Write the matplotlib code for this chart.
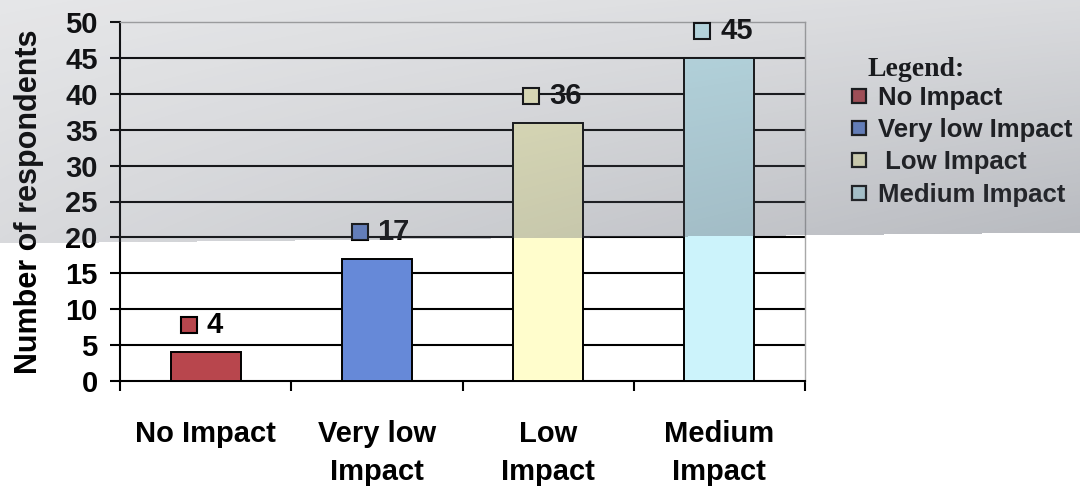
"""Bar chart: how strongly respondents rated the impact, with a legend box."""

import matplotlib

matplotlib.use("Agg")
import matplotlib.pyplot as plt
import numpy as np
from matplotlib.lines import Line2D

# ---- data ----
categories = ["No Impact", "Very low Impact", "Low Impact", "Medium Impact"]
tick_labels = ["No Impact", "Very low\nImpact", "Low\nImpact", "Medium\nImpact"]
legend_labels = ["No Impact", "Very low Impact", " Low Impact", "Medium Impact"]
respondents = [4, 17, 36, 45]
bar_colors = ["#b8464d", "#6689d8", "#fffdcc", "#ccf3fb"]

W, H, DPI = 1080, 487, 100
SANS = "Liberation Sans"
SERIF = "Liberation Serif"

fig = plt.figure(figsize=(W / DPI, H / DPI), dpi=DPI)
fig.patch.set_facecolor("white")
ax = fig.add_axes([120 / W, 1 - 381 / H, 685 / W, 359 / H])

x = np.arange(len(categories))
ax.bar(x, respondents, width=0.41, color=bar_colors, edgecolor="black",
       linewidth=1.4, zorder=3)

# value labels: a small colour key followed by the number
for xi, val, col in zip(x, respondents, bar_colors):
    ax.plot(xi, val, marker="s", markersize=11, markerfacecolor=col,
            markeredgecolor="black", markeredgewidth=1.5, linestyle="none",
            transform=ax.transData + matplotlib.transforms.ScaledTranslation(
                -17 / DPI, 27 / DPI, fig.dpi_scale_trans), zorder=4, clip_on=False)
    ax.annotate(str(val), (xi, val), xytext=(0.5, 19.4), textcoords="offset points",
                ha="left", va="center", fontsize=21, fontweight="bold",
                family=SANS, zorder=4, annotation_clip=False)

ax.set_xlim(-0.5, len(categories) - 0.5)
ax.set_ylim(0, 50)
ax.set_yticks(np.arange(0, 51, 5))
for yv in np.arange(5, 50, 5):
    ax.axhline(yv, color="black", linewidth=1.5, zorder=1)

ax.set_xticks(x)
ax.set_xticklabels(tick_labels, fontsize=21, fontweight="bold", family=SANS,
                   linespacing=1.45, va="top")
ax.set_xticks(np.arange(-0.5, len(categories), 1.0), minor=True)
ax.tick_params(axis="x", which="major", length=0, pad=28)
ax.tick_params(axis="x", which="minor", length=7, width=1.5, direction="out")
ax.tick_params(axis="y", length=7, width=1.5, direction="out", pad=9)
for lab in ax.get_yticklabels():
    lab.set_fontsize(21)
    lab.set_fontweight("bold")
    lab.set_family(SANS)

ax.set_ylabel("Number of respondents", fontsize=22, fontweight="bold",
              family=SANS, labelpad=15)

for side in ("left", "bottom"):
    ax.spines[side].set_color("black")
    ax.spines[side].set_linewidth(1.5)
for side in ("top", "right"):
    ax.spines[side].set_color("#a8a8a8")
    ax.spines[side].set_linewidth(1.0)

# legend
handles = [Line2D([], [], marker="s", linestyle="none", markersize=10,
                  markerfacecolor=c, markeredgecolor="black", markeredgewidth=1.6)
           for c in bar_colors]
fig.legend(handles, legend_labels, loc="upper left",
           bbox_to_anchor=(851 / W, 1 - 86 / H), frameon=False,
           prop={"family": SANS, "weight": "bold", "size": 18.5},
           handlelength=0.6, handletextpad=0.45, labelspacing=0.32,
           borderpad=0, borderaxespad=0)
fig.text(867 / W, 1 - 70 / H, "Legend:", family=SERIF, fontweight="bold",
         fontsize=20, ha="left", va="center")

# grey photographic cast over the upper part of the slide
yy, xx = np.mgrid[0:H, 0:W]
edge = 243 - 11 * xx / W
xn = xx / W
yn = np.clip(yy / 240, 0, 1)
alpha = 0.16 + 0.08 * yn + 0.07 * xn + 0.14 * xn * yn
alpha = np.where(yy < edge, alpha, 0.0)
overlay = np.zeros((H, W, 4))
overlay[..., 0] = 95 / 255
overlay[..., 1] = 100 / 255
overlay[..., 2] = 112 / 255
overlay[..., 3] = alpha
oax = fig.add_axes([0, 0, 1, 1], zorder=10)
oax.imshow(overlay, aspect="auto", interpolation="nearest")
oax.set_axis_off()

fig.savefig("out.png", dpi=DPI)
